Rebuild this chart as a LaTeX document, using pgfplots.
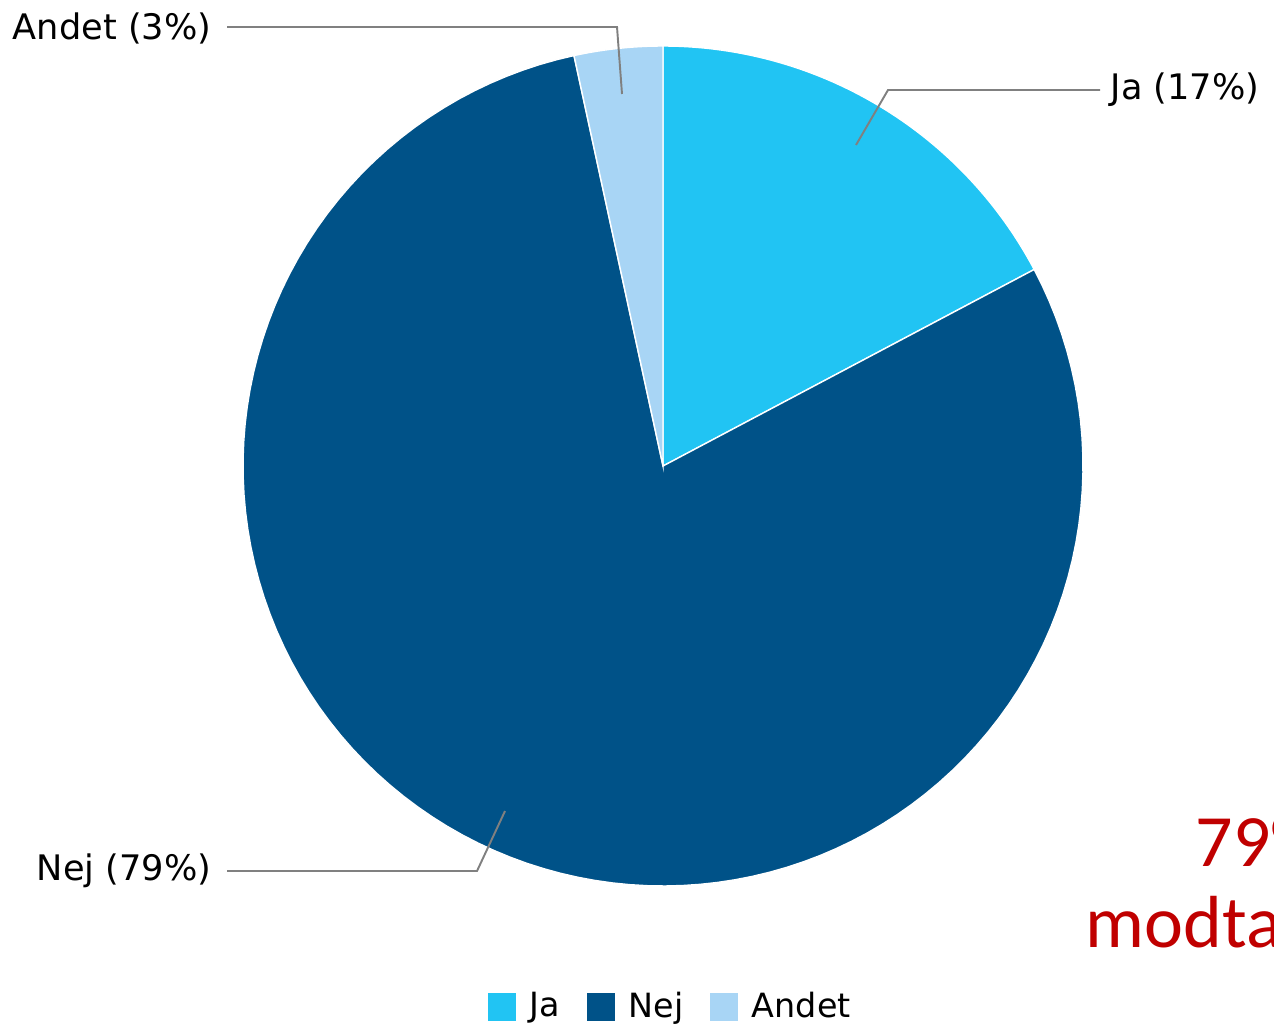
\documentclass[border=0pt]{standalone}
\usepackage{pgfplots}
\pgfplotsset{compat=1.18}
\usepackage{fontspec}
\setmainfont{DejaVu Sans}
\newfontfamily\calibri{Carlito}
\definecolor{jacol}{HTML}{21C4F3}
\definecolor{nejcol}{HTML}{005288}
\definecolor{andetcol}{HTML}{A8D5F5}
\definecolor{leader}{HTML}{808080}
\definecolor{redtxt}{HTML}{C00000}

% shares in percent
\def\pJa{17.25}
\def\pNej{79.35}
\def\pAndet{3.40}
\pgfmathsetmacro\aOne{90-3.6*\pJa}
\pgfmathsetmacro\aTwo{\aOne-3.6*\pNej}
\pgfmathsetmacro\aThree{\aTwo-3.6*\pAndet}

\begin{document}
\begin{tikzpicture}
\begin{axis}[
    hide axis, scale only axis,
    width=127.4mm, height=102.7mm,
    xmin=0, xmax=1274, ymin=0, ymax=1027,
    clip=false,
    samples=120,
    legend columns=3,
    legend style={at={(axis cs:672,20)}, anchor=center, draw=none,
        font=\fontsize{9.5}{11}\selectfont,
        /tikz/every odd column/.append style={column sep=0.5mm},
        /tikz/every even column/.append style={column sep=1.8mm}},
    legend image code/.code={\fill[#1] (0mm,-1.5mm) rectangle (3mm,1.5mm);},
]
\addplot[fill=jacol, draw=white, line width=0.4pt, domain=\aOne:90]
    ({663+420*cos(x)},{561+420*sin(x)}) -- (axis cs:663,561) -- cycle;
\addplot[fill=nejcol, draw=white, line width=0.4pt, domain=\aTwo:\aOne]
    ({663+420*cos(x)},{561+420*sin(x)}) -- (axis cs:663,561) -- cycle;
\addplot[fill=andetcol, draw=white, line width=0.4pt, domain=\aThree:\aTwo]
    ({663+420*cos(x)},{561+420*sin(x)}) -- (axis cs:663,561) -- cycle;
\legend{Ja, Nej, Andet}

% leader lines
\draw[leader, line width=0.55pt] (axis cs:622,933) -- (axis cs:617,1000) -- (axis cs:227,1000);
\draw[leader, line width=0.55pt] (axis cs:856,882) -- (axis cs:888,937) -- (axis cs:1100,937);
\draw[leader, line width=0.55pt] (axis cs:505,216) -- (axis cs:477,156) -- (axis cs:227,156);

\node[anchor=east, inner sep=0pt, font=\fontsize{10}{12}\selectfont] at (axis cs:212,999) {Andet (3\%)};
\node[anchor=west, inner sep=0pt, font=\fontsize{10}{12}\selectfont] at (axis cs:1110,937) {Ja (17\%)};
\node[anchor=east, inner sep=0pt, font=\fontsize{10}{12}\selectfont] at (axis cs:212,156) {Nej (79\%)};

\node[anchor=base west, inner sep=0pt, text=redtxt, font=\calibri\fontsize{21}{25}\selectfont] at (axis cs:1195,161) {79\%};
\node[anchor=base west, inner sep=0pt, text=redtxt, font=\calibri\fontsize{21}{25}\selectfont] at (axis cs:1085,80) {modtager};
\end{axis}
\pgfresetboundingbox
\path (current axis.south west) rectangle (current axis.north east);
\end{tikzpicture}
\end{document}
